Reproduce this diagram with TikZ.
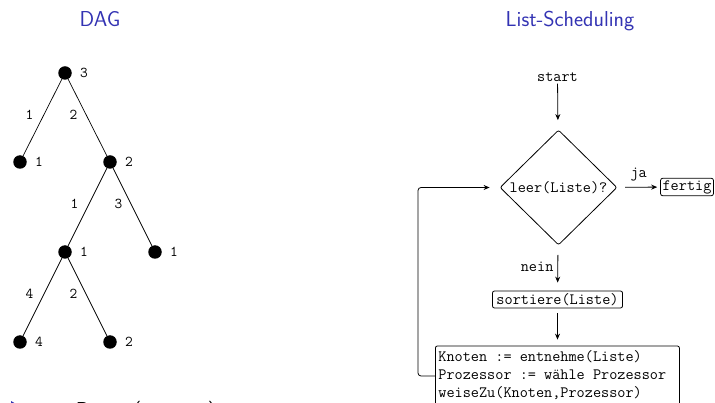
\documentclass[tikz,border=0pt]{standalone}
\usetikzlibrary{shapes.geometric,arrows.meta}
\definecolor{struct}{RGB}{51,51,179}
\begin{document}
\begin{tikzpicture}[x=1pt,y=-1pt,
  dot/.style={circle,fill=black,inner sep=0pt,minimum size=13.5pt},
  lbl/.style={font=\fontsize{15}{17}\selectfont\ttfamily,inner sep=0pt},
  tt/.style={font=\fontsize{15.8}{18}\selectfont\ttfamily},
  title/.style={font=\fontsize{21.6}{24}\selectfont\sffamily,text=struct,anchor=base},
  tree/.style={line width=0.7pt},
  flow/.style={line width=0.8pt,-{Stealth[length=6pt,width=5pt]}},
  rbox/.style={tt,draw,rounded corners=2pt,line width=0.8pt,inner sep=2pt},
]
\useasboundingbox (0,0) rectangle (715,403);
% titles
\node[title] (t1) at (100,27) {DAG};
\node[title] (t2) at (570,27) {List-Scheduling};
% tree
\node[dot,label={[lbl,label distance=8pt]right:3}] (r) at (65,73) {};
\node[dot,label={[lbl,label distance=8pt]right:1}] (a) at (20,162) {};
\node[dot,label={[lbl,label distance=8pt]right:2}] (b) at (110,162) {};
\node[dot,label={[lbl,label distance=8pt]right:1}] (c) at (65,252) {};
\node[dot,label={[lbl,label distance=8pt]right:1}] (d) at (155,252) {};
\node[dot,label={[lbl,label distance=8pt]right:4}] (e) at (20,342) {};
\node[dot,label={[lbl,label distance=8pt]right:2}] (f) at (110,342) {};
\draw[tree] (r) -- node[lbl,xshift=-13pt,yshift=3pt]{1} (a);
\draw[tree] (r) -- node[lbl,xshift=-14pt,yshift=3pt]{2} (b);
\draw[tree] (b) -- node[lbl,xshift=-13pt,yshift=3pt]{1} (c);
\draw[tree] (b) -- node[lbl,xshift=-14pt,yshift=3pt]{3} (d);
\draw[tree] (c) -- node[lbl,xshift=-13pt,yshift=3pt]{4} (e);
\draw[tree] (c) -- node[lbl,xshift=-14pt,yshift=3pt]{2} (f);
% flowchart
\node[tt,inner sep=2pt] (start) at (557.5,77) {start};
\node[tt,diamond,draw,line width=0.8pt,rounded corners=2pt,inner sep=0pt,
      minimum width=117pt,minimum height=115pt] (q) at (558.5,187.5) {leer(Liste)?};
\node[rbox,minimum height=15pt] (fertig) at (687,187) {fertig};
\node[rbox,minimum height=17pt,inner xsep=4pt] (sort) at (557.5,299.5) {sortiere(Liste)};
\node[rbox,inner sep=3pt,minimum height=56pt,anchor=west] (body) at (435,376)
  {\makebox[238pt][l]{\begin{tabular}{@{}l@{}}Knoten := entnehme(Liste)\\Prozessor := w\"ahle Prozessor\\weiseZu(Knoten,Prozessor)\end{tabular}}};
\draw[flow,shorten >=10pt] (start) -- (q);
\draw[flow,shorten <=8pt,shorten >=3pt] (q) -- node[tt,above,inner sep=3pt,yshift=3pt]{ja} (fertig);
\draw[flow,shorten <=10pt,shorten >=8pt] (q) -- node[tt,left,inner sep=4pt,yshift=1pt]{nein} (sort);
\draw[flow,shorten <=5pt,shorten >=6pt] (sort) -- (body.north -| sort);
\coordinate (c1) at (418,376);
\coordinate (c2) at (418,187.5);
\draw[flow,rounded corners=3pt,shorten >=10pt] (body.west) -- (c1) -- (c2) -- (q.west);
% cut-off line at the bottom
\fill[struct] (11,401) -- (11,415) -- (23,408) -- cycle;
\node[font=\fontsize{21.6}{24}\selectfont\sffamily,anchor=base west,inner sep=0pt] (bot) at (30,417.5) {neue Dauer (mit min)};
\end{tikzpicture}
\end{document}
